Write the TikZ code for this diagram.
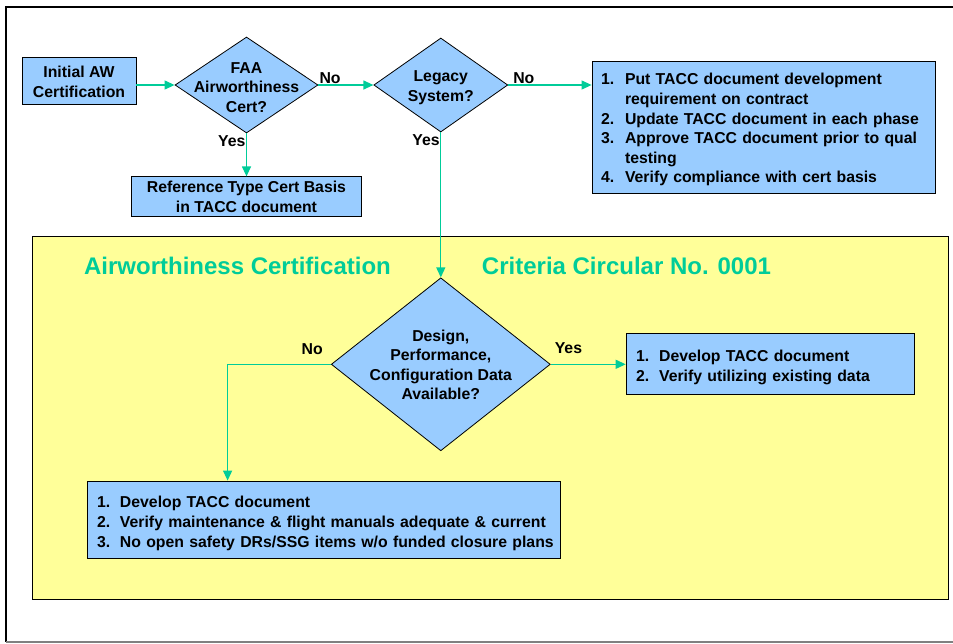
\documentclass[tikz,border=0pt]{standalone}
\usepackage{fontspec}
\setmainfont{Liberation Sans}
\usetikzlibrary{positioning, arrows.meta, shapes.geometric}
\definecolor{awblue}{RGB}{153,204,255}
\definecolor{awyellow}{RGB}{255,255,153}
\definecolor{awgreen}{RGB}{0,204,153}
\newcommand{\dropped}[2][3pt]{\raisebox{-#1}[\height][\depth]{#2}}

\begin{document}
\begin{tikzpicture}[x=1pt, y=-1pt,
    >={Triangle[length=10pt,width=9pt]},
    font=\bfseries\fontsize{15.8}{19.6}\selectfont,
    box/.style={draw, fill=awblue, line width=0.8pt, inner sep=0pt},
    decision/.style={draw, diamond, fill=awblue, line width=0.8pt, inner sep=0pt},
    flow/.style={->, draw=awgreen, line width=1.2pt},
    answer/.style={inner sep=0.5pt},
    heading/.style={text=awgreen, font=\bfseries\fontsize{24}{28}\selectfont}]
    \useasboundingbox (0,0) rectangle (953,643);

    % outer frame
    \draw [line width=1.6pt] (953,7) -- (6,7) -- (6,642);
    \draw [gray, line width=1.2pt] (6,642) -- (953,642);

    % yellow panel
    \node [draw,
    fill=awyellow,
    line width=0.8pt,
    minimum width=916,
    minimum height=363
    ] (panel) at (490,417.5) {};

    \node [heading] (title left) at (237.5,266) {Airworthiness Certification};
    \node [heading] (title right) at (626.5,266) {Criteria Circular No. 0001};

    \node [box,
    minimum width=114,
    minimum height=47
    ] (initial) at (79,80.5) {\dropped{\begin{tabular}{@{}c@{}}
            Initial AW\\
            Certification
        \end{tabular}}};

    \node [decision,
    minimum width=143,
    minimum height=96,
    label={[align=center, yshift=-2.5pt]center:FAA\\Airworthiness\\Cert?}
    ] (faa) at (246.5,85) {};

    \node [decision,
    minimum width=134,
    minimum height=94,
    right=55pt of faa,
    label={[align=center, yshift=-3pt]center:Legacy\\System?}
    ] (legacy) {};

    \node [box,
    minimum width=230,
    minimum height=40,
    align=center,
    below=43pt of faa
    ] (type cert) {Reference Type Cert Basis\\in TACC document};

    \node [box,
    text width=325,
    inner xsep=9pt,
    minimum height=132,
    align=left
    ] (new program) at (763.5,127) {\dropped{%
        \begin{tabular}{@{}p{24pt}@{}l@{}}
            1. & Put TACC document development\\
               & requirement on contract\\
            2. & Update TACC document in each phase\\
            3. & Approve TACC document prior to qual\\
               & testing\\
            4. & Verify compliance with cert basis
        \end{tabular}}
    };

    \node [decision,
    minimum width=219,
    minimum height=173,
    below=145pt of legacy,
    label={[align=center, yshift=-0.5pt]center:Design,\\Performance,\\Configuration Data\\Available?}
    ] (data) {};

    \node [box,
    text width=268,
    inner xsep=10pt,
    minimum height=61,
    align=left,
    right=75pt of data
    ] (data yes) {\dropped[3.5pt]{%
        \begin{tabular}{@{}p{23pt}@{}l@{}}
            1. & Develop TACC document\\
            2. & Verify utilizing existing data
        \end{tabular}}
    };

    \node [box,
    text width=453,
    inner xsep=10pt,
    minimum height=77,
    align=left
    ] (data no) at (323.5,519.5) {\dropped[4pt]{%
        \begin{tabular}{@{}p{23pt}@{}l@{}}
            1. & Develop TACC document\\
            2. & Verify maintenance \& flight manuals adequate \& current\\
            3. & No open safety DRs/SSG items w/o funded closure plans
        \end{tabular}}
    };

    % connectors
    \draw [flow] (initial.east |- faa.west) -- (faa.west);

    \draw [flow] (faa.east) -- (legacy.west)
    node [pos=0, above right, answer] {No};

    \draw [flow] (faa.south) -- (faa.south |- type cert.north)
    node [pos=0, below left, answer, yshift=-1pt] {Yes};

    \draw [flow] (legacy.east) -- (legacy.east -| new program.west)
    node [pos=0, above right, answer, xshift=4pt] {No};

    \draw [flow] (legacy.south) -- (data.north)
    node [pos=0, below left, answer, yshift=-1pt] {Yes};

    \draw [flow] (data.east) -- (data yes.west)
    node [pos=0, above right, answer, xshift=3pt, yshift=10pt] {Yes};

    \draw [flow] (data.west) -| ([xshift=141pt]data no.north west)
    node [pos=0, above left, answer, xshift=-7pt, yshift=9pt] {No};
\end{tikzpicture}
\end{document}
